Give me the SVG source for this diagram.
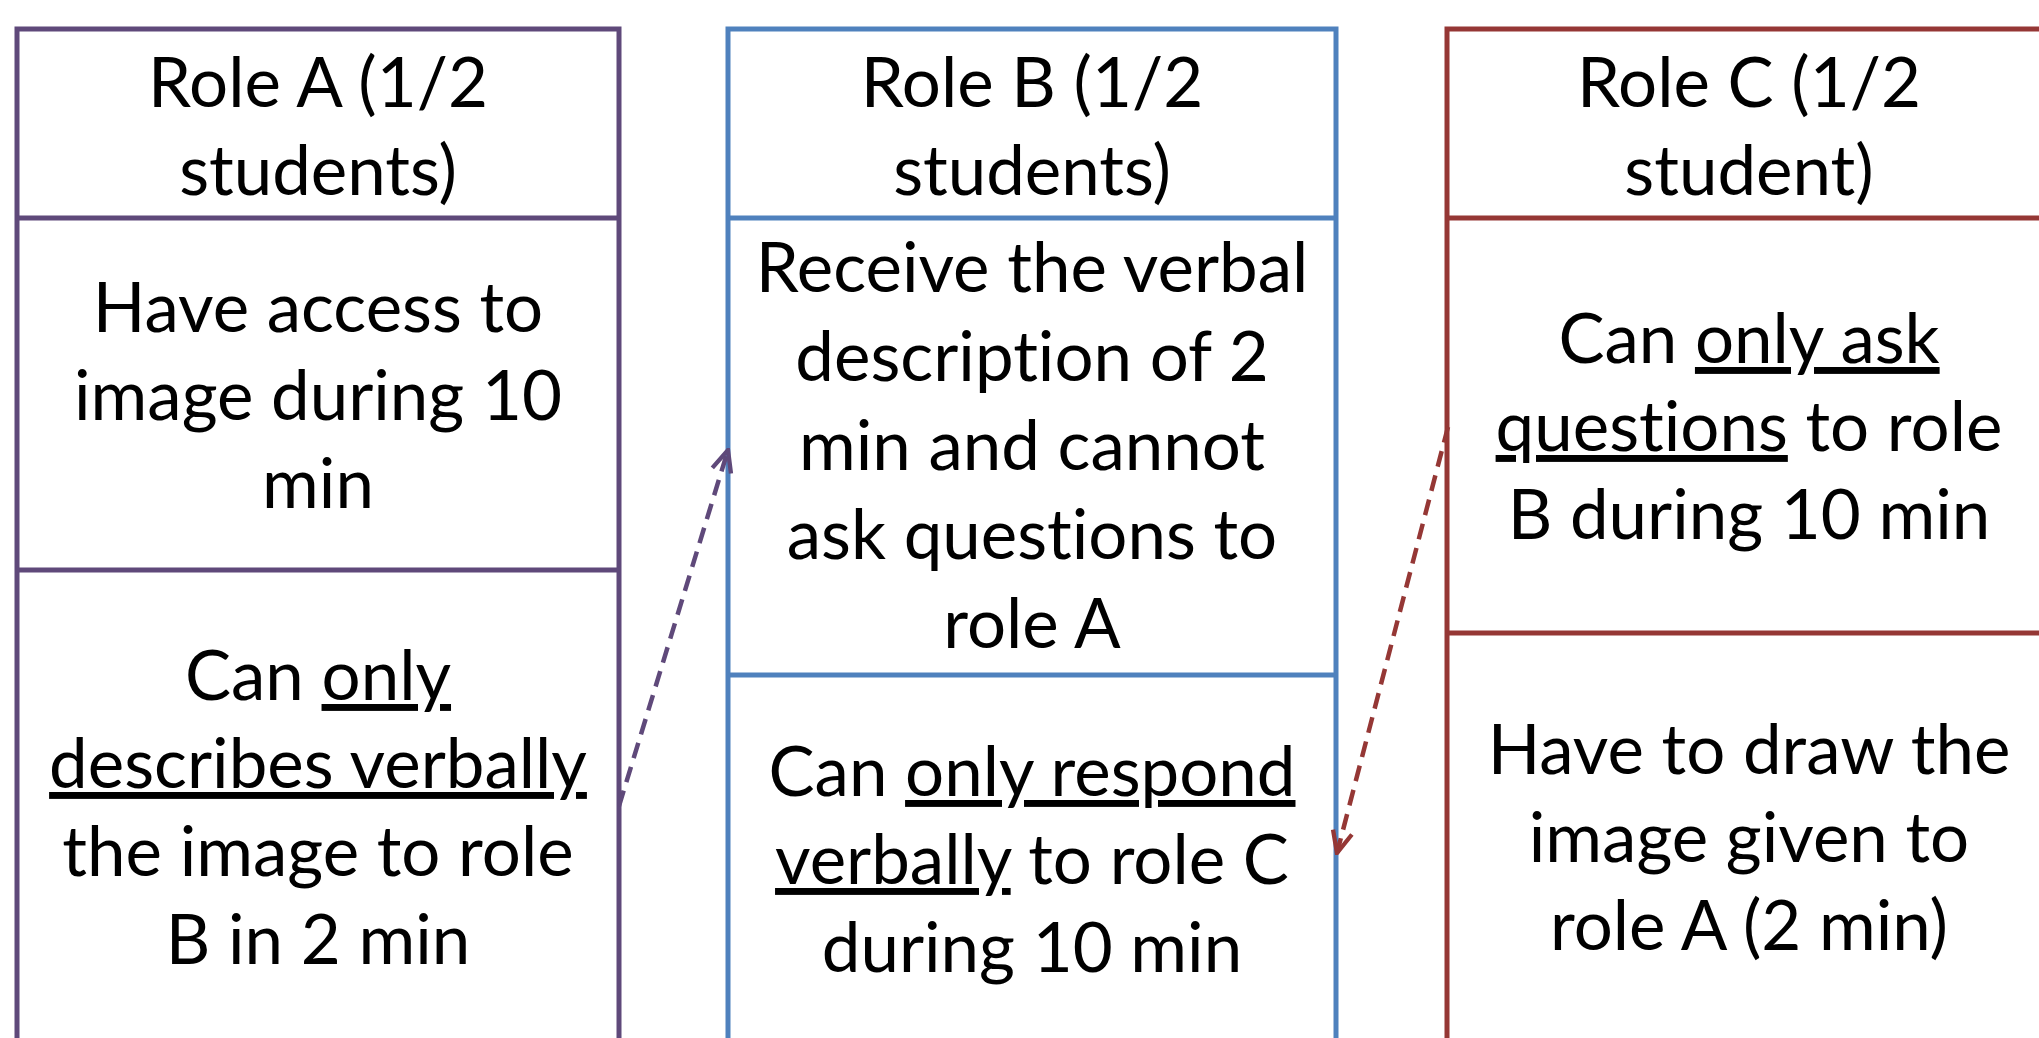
<svg xmlns="http://www.w3.org/2000/svg" width="2039" height="1038" viewBox="0 0 2039 1038">
<style>
.a{stroke:#5f497a}.b{stroke:#4f81bd}.c{stroke:#953735}
rect,line.d{fill:#fff;stroke-width:5}
text{font-family:Lato,"Liberation Sans",sans-serif;font-size:69px;fill:#000;text-anchor:middle;font-variant-ligatures:none}
.u{text-decoration:underline}
.con{fill:none;stroke-width:4.5;stroke-dasharray:16 9}
</style>
<defs>
<marker id="ha" viewBox="0 0 12 12" refX="11" refY="6" markerWidth="26" markerHeight="26" markerUnits="userSpaceOnUse" orient="auto"><path d="M1,1.5 L11,6 L1,10.5" fill="none" stroke="#5f497a" stroke-width="2"/></marker>
<marker id="hc" viewBox="0 0 12 12" refX="11" refY="6" markerWidth="26" markerHeight="26" markerUnits="userSpaceOnUse" orient="auto"><path d="M1,1.5 L11,6 L1,10.5" fill="none" stroke="#953735" stroke-width="2"/></marker>
</defs>
<rect width="2039" height="1038" fill="#fff" stroke="none"/>
<g id="roleA">
<rect class="a" x="17" y="29" width="602" height="1040"/>
<line class="a d" x1="17" y1="218" x2="619" y2="218"/>
<line class="a d" x1="17" y1="570" x2="619" y2="570"/>
<g id="roleA-header"><text x="318" y="107">Role A (1/2<tspan x="318" dy="88">students)</tspan></text></g>
<g id="roleA-access"><text x="318" y="332">Have access to<tspan x="318" dy="88">image during 10</tspan><tspan x="318" dy="88">min</tspan></text></g>
<g id="roleA-describe"><text x="318" y="700">Can <tspan class="u">only</tspan><tspan x="318" dy="88" class="u">describes verbally</tspan><tspan x="318" dy="88">the image to role</tspan><tspan x="318" dy="88">B in 2 min</tspan></text></g>
</g>
<g id="roleB">
<rect class="b" x="728" y="29" width="608" height="1040"/>
<line class="b d" x1="728" y1="218" x2="1336" y2="218"/>
<line class="b d" x1="728" y1="675" x2="1336" y2="675"/>
<g id="roleB-header"><text x="1032" y="107">Role B (1/2<tspan x="1032" dy="88">students)</tspan></text></g>
<g id="roleB-receive"><text x="1032" y="292">Receive the verbal<tspan x="1032" dy="89">description of 2</tspan><tspan x="1032" dy="89">min and cannot</tspan><tspan x="1032" dy="89">ask questions to</tspan><tspan x="1032" dy="89">role A</tspan></text></g>
<g id="roleB-respond"><text x="1032" y="796">Can <tspan class="u">only respond</tspan><tspan x="1032" dy="88"><tspan class="u">verbally</tspan> to role C</tspan><tspan x="1032" dy="88">during 10 min</tspan></text></g>
</g>
<g id="roleC">
<rect class="c" x="1447" y="29" width="610" height="1040"/>
<line class="c d" x1="1447" y1="218" x2="2060" y2="218"/>
<line class="c d" x1="1447" y1="633" x2="2060" y2="633"/>
<g id="roleC-header"><text x="1749" y="107">Role C (1/2<tspan x="1749" dy="88">student)</tspan></text></g>
<g id="roleC-ask"><text x="1749" y="363">Can <tspan class="u">only ask</tspan><tspan x="1749" dy="88"><tspan class="u">questions</tspan> to role</tspan><tspan x="1749" dy="88">B during 10 min</tspan></text></g>
<g id="roleC-draw"><text x="1749" y="774">Have to draw the<tspan x="1749" dy="88">image given to</tspan><tspan x="1749" dy="88">role A (2 min)</tspan></text></g>
</g>
<g id="connectors">
<line class="con" x1="619" y1="806" x2="728" y2="450" stroke="#5f497a" marker-end="url(#ha)"/>
<line class="con" x1="1448" y1="427" x2="1337" y2="853" stroke="#953735" marker-end="url(#hc)"/>
</g>
</svg>
